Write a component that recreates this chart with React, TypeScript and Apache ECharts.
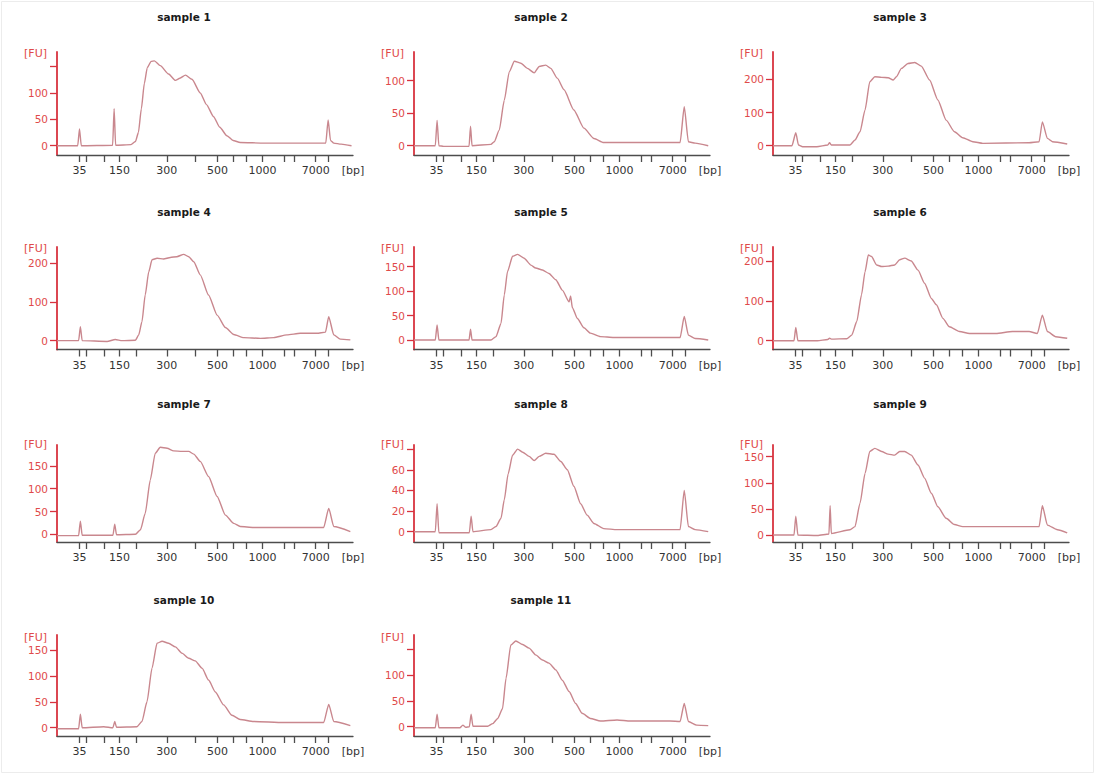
import React, { useEffect, useRef } from 'react';
import * as echarts from 'echarts';

// ---- data ----
const sampleNames = ['sample 1', 'sample 2', 'sample 3', 'sample 4', 'sample 5', 'sample 6', 'sample 7', 'sample 8', 'sample 9', 'sample 10', 'sample 11'];

// ladder peaks (bp) and their migration positions (0-100 scale)
const ladderBp = [35, 50, 100, 150, 200, 300, 400, 500, 600, 700, 1000, 2000, 3000, 7000, 10380];
const ladderPos = [7.6, 9.9, 16.1, 21.1, 26.7, 37.1, 46.6, 54.2, 59.6, 63.8, 69.4, 76.7, 80.3, 87.4, 91.6];
const labeledBp = [35, 150, 300, 500, 1000, 7000];

// [position, FU]
const s1 = [[0,0],[7.0,0],[7.6,32],[8.2,0],[18.8,1],[19.3,70],[19.8,1],[25.0,2],[26.5,8],[27.5,25],[28.5,70],[29.5,118],[30.5,148],[31.8,160],[32.9,161],[34.9,152],[37.7,136],[40.0,124],[41.5,128],[43.4,134],[45.6,126],[48.4,100],[50.5,78],[52.9,55],[55.0,35],[57.4,19],[59.5,10],[61.9,6],[70.0,5],[90.8,5],[91.6,49],[92.4,10],[93.5,5],[96.0,3],[99.5,0]];
const s2 = [[0,0],[7.2,0],[7.8,39],[8.4,0],[10,-1],[18.6,-1],[19.1,30],[19.6,0],[26.0,2],[27.1,6],[28.8,24],[30.5,70],[32.2,114],[33.9,130],[36.1,127],[38.3,119],[40.6,112],[42.3,122],[44.5,124],[46.2,119],[48.4,104],[50.7,86],[54.0,55],[57.4,27],[60.8,11],[64.1,5],[89.9,5],[91.3,60],[92.7,6],[95,4],[99.4,0]];
const s3 = [[0,0],[6.4,0],[7.7,39],[8.6,2],[10,-3],[14.8,-3],[18.5,2],[19.1,9],[19.7,2],[26.0,2],[27.7,17],[29.4,42],[31.1,108],[32.7,193],[34.4,208],[36.7,206],[38.9,205],[40.6,198],[41.7,208],[43.4,233],[45.6,248],[47.9,251],[50.1,240],[52.9,198],[55.7,138],[58.5,77],[61.3,42],[64.1,24],[67.5,12],[70.9,7],[86.5,9],[89.9,12],[91.0,72],[92.7,22],[94.4,12],[99.4,5]];
const s4 = [[0,0],[7.3,0],[7.9,36],[8.5,0],[16.9,-2],[19.7,3],[22,0],[26.5,1],[27.6,15],[28.7,49],[29.8,118],[31.0,178],[32.1,209],[33.8,213],[36.0,211],[38.3,215],[40.5,217],[42.8,223],[44.5,217],[46.2,204],[48.4,170],[51.2,118],[54.1,66],[56.9,34],[59.7,16],[63.1,8],[68.7,6],[73.2,8],[77.7,15],[82.2,19],[87.8,19],[90.7,22],[91.8,62],[93.5,15],[95.7,4],[99.1,2]];
const s5 = [[0,0],[7.2,0],[7.8,31],[8.4,0],[18.6,0],[19.1,22],[19.6,0],[26.0,0],[27.7,7],[29.4,34],[30.5,92],[31.6,140],[33.3,171],[35.0,175],[37.2,167],[39.5,153],[41.1,147],[43.4,143],[45.6,136],[47.9,123],[50.1,102],[52.4,78],[52.9,90],[53.5,66],[55.2,44],[57.4,25],[59.6,14],[63.0,7],[67.5,5],[89.9,5],[91.3,48],[92.7,10],[95.0,3],[99.4,0]];
const s6 = [[0,0],[7.1,0],[7.7,33],[8.4,0],[15.0,0],[18.5,3],[19.1,6],[19.7,4],[24.9,5],[26.6,14],[28.3,48],[29.9,115],[31.1,173],[32.2,215],[33.3,211],[35.0,190],[36.7,186],[38.9,187],[41.1,190],[42.8,203],[44.5,207],[46.7,200],[49.0,177],[51.2,144],[53.5,106],[55.2,90],[57.4,56],[59.6,35],[63.0,23],[66.4,18],[75.3,18],[80.9,23],[86.5,23],[89.3,18],[91.0,64],[92.7,23],[95.5,10],[99.4,6]];
const s7 = [[0,-3],[7.3,-3],[7.9,29],[8.5,-2],[18.9,-2],[19.5,22],[20.1,-1],[26.5,0],[28.2,10],[29.8,46],[31.5,119],[33.2,178],[34.9,191],[37.2,189],[39.4,183],[42.2,182],[44.5,182],[46.2,176],[48.4,160],[51.2,127],[54.1,83],[56.9,42],[59.7,24],[61.9,17],[66.4,15],[90.1,15],[91.8,57],[93.5,17],[99.1,6]];
const s8 = [[0,0],[7.2,0],[7.8,27],[8.4,-1],[18.7,-1],[19.3,15],[19.9,0],[26.0,2],[27.7,5],[29.4,13],[30.5,31],[31.8,56],[33.3,74],[35.0,80],[36.7,77],[38.9,73],[40.6,69],[42.3,73],[44.5,76],[47.3,75],[49.6,68],[51.8,60],[54.0,44],[56.3,27],[58.5,16],[60.8,8],[64.1,3],[68.6,2],[89.9,2],[91.3,40],[92.7,5],[95.0,2],[99.4,0]];
const s9 = [[0,0],[7.1,0],[7.7,36],[8.4,0],[15,-1],[18.9,2],[19.3,56],[19.7,3],[26.0,10],[27.7,16],[29.4,61],[31.1,118],[32.7,160],[34.4,166],[36.7,160],[38.9,155],[41.1,153],[42.8,160],[44.5,160],[46.7,153],[49.0,134],[51.2,109],[53.5,80],[55.7,54],[58.5,32],[61.3,20],[64.1,16],[86.5,16],[89.9,16],[91.0,56],[92.7,19],[96.1,10],[99.4,4]];
const s10 = [[0,-2],[7.3,-2],[7.9,26],[8.5,0],[15.8,2],[18.9,0],[19.5,12],[20.1,1],[27.0,2],[28.7,12],[30.4,50],[32.1,115],[33.8,163],[35.5,167],[37.7,163],[40.0,156],[42.2,144],[44.5,134],[46.7,129],[49.0,115],[51.2,92],[53.5,69],[56.3,44],[59.1,24],[61.9,16],[66.4,12],[76.6,10],[90.1,10],[91.8,45],[93.5,12],[99.1,4]];
const s11 = [[0,-2],[7.2,-2],[7.8,24],[8.4,-2],[15.5,-2],[16.5,3],[17.5,-1],[18.7,0],[19.3,24],[19.9,1],[24.9,1],[26.6,6],[28.3,16],[29.9,35],[31.1,94],[32.7,158],[34.4,166],[36.7,159],[38.9,152],[41.1,139],[43.4,129],[45.6,123],[47.9,110],[50.1,90],[52.4,68],[54.6,45],[56.8,26],[59.6,16],[63.0,11],[68.6,13],[73.1,11],[86.5,11],[89.9,10],[91.3,45],[92.7,10],[95.5,3],[99.4,2]];
const sampleData = [s1, s2, s3, s4, s5, s6, s7, s8, s9, s10, s11];

// y-axis extents and ticks per sample
const yMin = [-17.6, -14.3, -28, -22.8, -19.4, -22.1, -16.9, -10, -13.4, -16, -18];
const yMax = [177.8, 144.2, 282.5, 242, 190, 235, 196, 84, 172.4, 179, 177.5];
const yTickValues = [[0,50,100,150],[0,50,100],[0,100,200],[0,100,200],[0,50,100,150],[0,100,200],[0,50,100,150],[0,20,40,60,80],[0,50,100,150],[0,50,100,150],[0,50,100,150]];
const yLabelValues = [[0,50,100],[0,50,100],[0,100,200],[0,100,200],[0,50,100,150],[0,100,200],[0,50,100,150],[0,20,40,60],[0,50,100,150],[0,50,100,150],[0,50,100]];

// ---- layout ----
const colLeft = [57, 414, 773];
const plotWidth = 296;
const rowTop = [52, 247, 445, 635];
const rowBottom = [155, 349.5, 542, 736];
const titleY = [17, 212, 404, 600];
const fuY = [53, 248, 444, 637];

const RED_AXIS = '#d8333f';
const RED_TEXT = '#df4a4a';
const GRAY = '#4d4d4d';
const CURVE = '#c9878e';

export default function App() {
  const ref = useRef<HTMLDivElement>(null);
  useEffect(() => {
    const chart = echarts.init(ref.current!, null, { renderer: 'svg' });
    const labelPos = labeledBp.map((bp) => ladderPos[ladderBp.indexOf(bp)]);
    const fmtX = (v: number) => {
      if (Math.abs(v - 100) < 0.01) return '[bp]';
      const i = ladderPos.findIndex((p) => Math.abs(p - v) < 0.01);
      return i >= 0 ? String(ladderBp[i]) : '';
    };
    const grids: any[] = [];
    const xAxes: any[] = [];
    const yAxes: any[] = [];
    const series: any[] = [];
    const graphics: any[] = [
      { type: 'rect', shape: { x: 1.5, y: 1.5, width: 1092, height: 771 }, style: { fill: 'none', stroke: '#ececec', lineWidth: 1 }, silent: true },
    ];
    sampleData.forEach((data, i) => {
      const r = Math.floor(i / 3);
      const c = i % 3;
      const left = colLeft[c];
      const top = rowTop[r];
      const height = rowBottom[r] - rowTop[r];
      grids.push({ left, top, width: plotWidth, height, containLabel: false });
      xAxes.push({
        gridIndex: i,
        type: 'value',
        min: 0,
        max: 100,
        axisLine: { show: true, onZero: false, lineStyle: { color: GRAY, width: 1.3 } },
        axisTick: { show: true, customValues: ladderPos, length: 7, lineStyle: { color: GRAY, width: 1.3 } },
        axisLabel: {
          customValues: [...labelPos, 100],
          formatter: fmtX,
          color: '#333',
          fontSize: 11,
          fontFamily: 'DejaVu Sans',
          margin: 10,
          showMinLabel: true,
          showMaxLabel: true,
        },
        splitLine: { show: false },
      });
      yAxes.push({
        gridIndex: i,
        type: 'value',
        min: yMin[i],
        max: yMax[i],
        axisLine: { show: true, onZero: false, lineStyle: { color: RED_AXIS, width: 1.8 } },
        axisTick: { show: true, customValues: yTickValues[i], length: 7, lineStyle: { color: RED_AXIS, width: 1.3 } },
        axisLabel: {
          customValues: yLabelValues[i],
          color: RED_TEXT,
          fontSize: 10.5,
          fontFamily: 'DejaVu Sans',
          margin: 9,
        },
        splitLine: { show: false },
      });
      series.push({
        type: 'line',
        xAxisIndex: i,
        yAxisIndex: i,
        data,
        showSymbol: false,
        symbol: 'none',
        silent: true,
        smooth: 0.2,
        smoothMonotone: 'x',
        lineStyle: { color: CURVE, width: 1.4 },
      });
      graphics.push({
        type: 'text',
        x: left + 127,
        y: titleY[r],
        style: { text: sampleNames[i], font: 'bold 10.5px "DejaVu Sans"', fill: '#1a1a1a', align: 'center', verticalAlign: 'middle' },
        silent: true,
      });
      graphics.push({
        type: 'text',
        x: left - 10,
        y: fuY[r],
        style: { text: '[FU]', font: '11px "DejaVu Sans"', fill: RED_TEXT, align: 'right', verticalAlign: 'middle' },
        silent: true,
      });
    });
    chart.setOption({
      animation: false,
      backgroundColor: '#ffffff',
      grid: grids,
      xAxis: xAxes,
      yAxis: yAxes,
      series,
      graphic: graphics,
    });
    return () => chart.dispose();
  }, []);
  return <div ref={ref} style={{ position: 'absolute', left: 0, top: 0, width: 1096, height: 775, background: '#fff' }} />;
}
